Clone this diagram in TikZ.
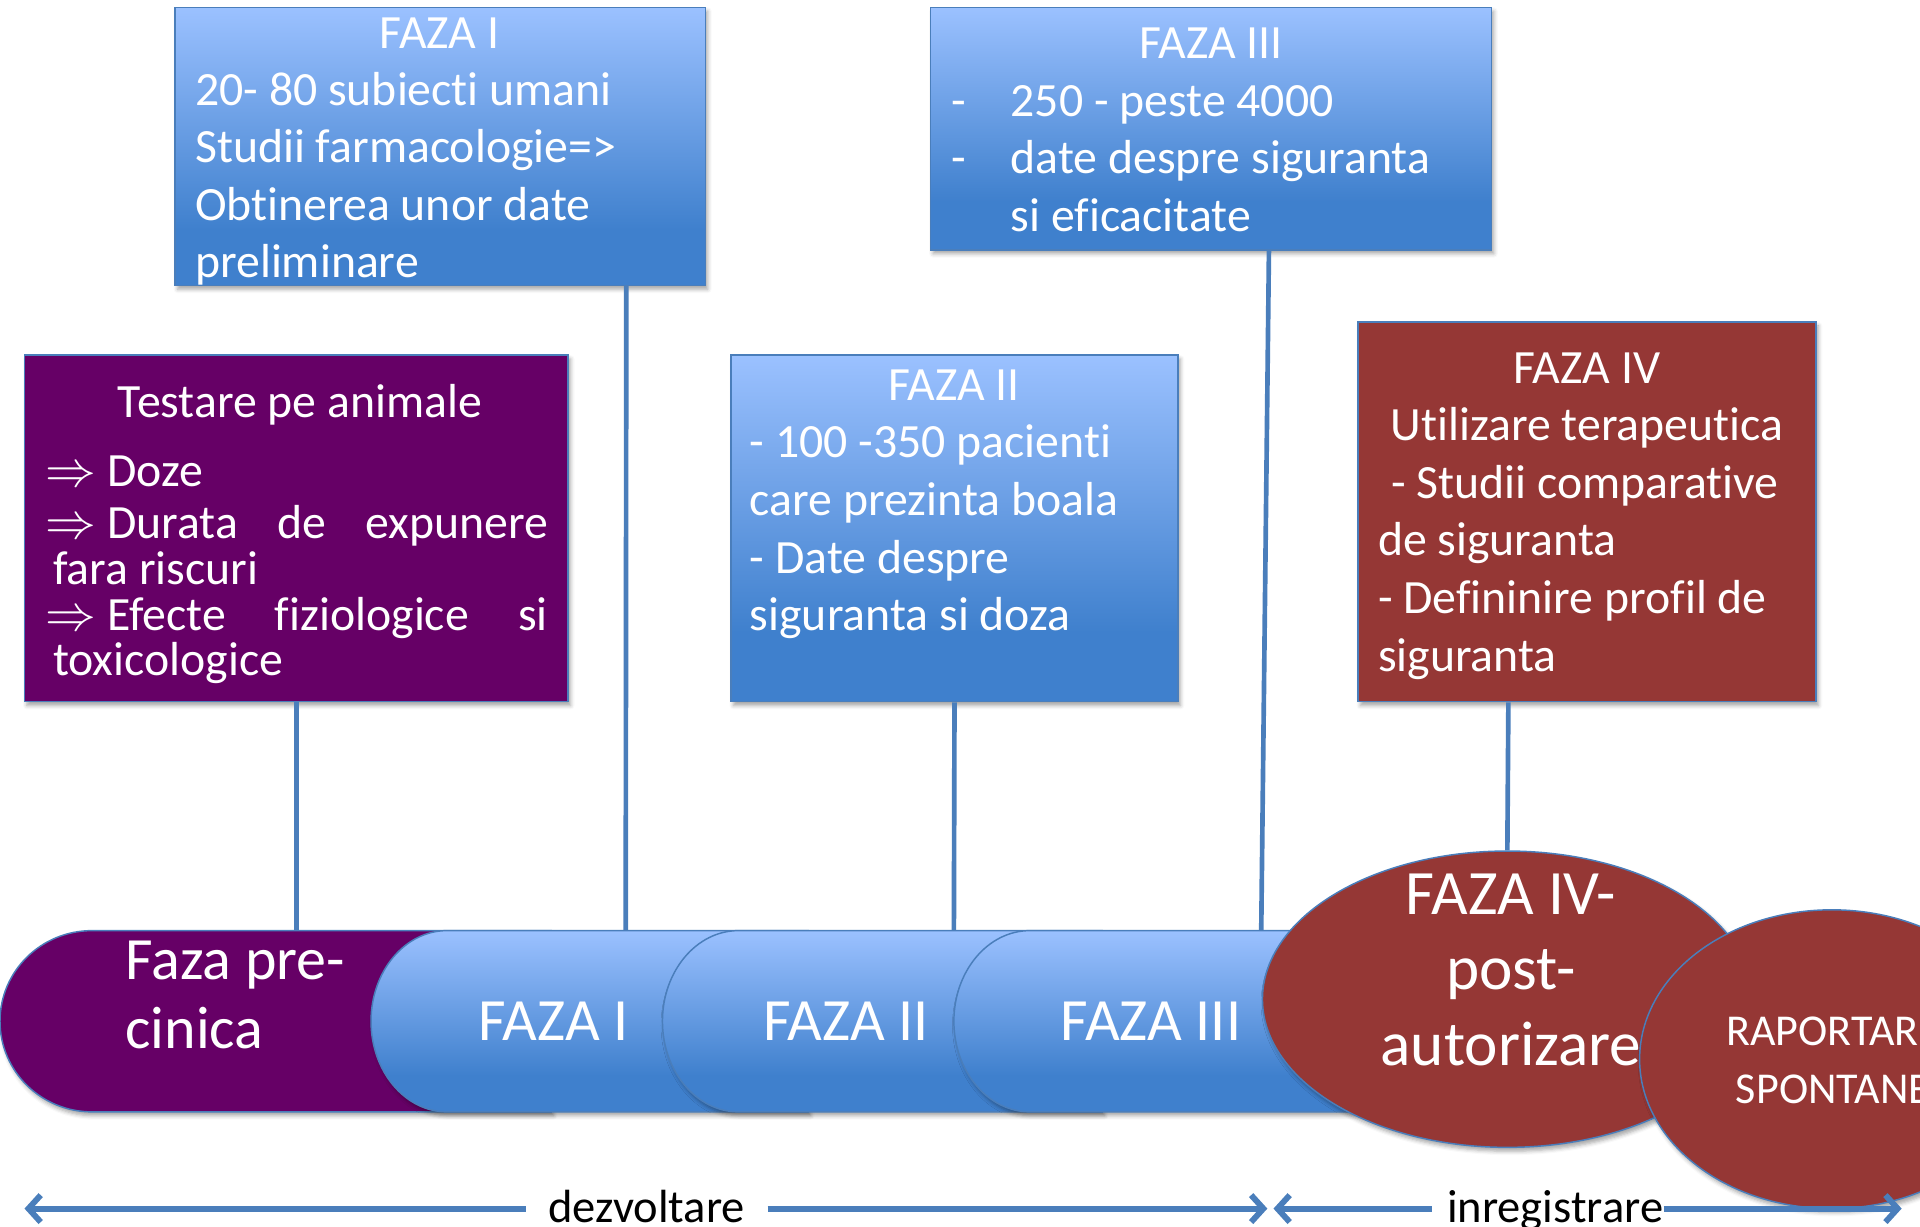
\documentclass[tikz,border=0pt]{standalone}
\usepackage{fontspec}
\setmainfont{Carlito}[Ligatures={NoCommon}]
\usetikzlibrary{shapes.geometric,shadows,shadows.blur,fit,arrows.meta,calc}

\definecolor{phaseblue}{HTML}{4A7EBB}
\definecolor{gradtop}{HTML}{9BC1FF}
\definecolor{gradbot}{HTML}{3F80CD}
\definecolor{preclin}{HTML}{660066}
\definecolor{postred}{HTML}{953735}

% light-to-dark blue fill used by the clinical phases
\pgfdeclareverticalshading{phasegrad}{100bp}{color(0bp)=(gradbot); color(25bp)=(gradbot); color(35bp)=(gradbot); color(75bp)=(gradtop); color(100bp)=(gradtop)}

\newcommand\bodyfont{\fontsize{19.5}{23.5}\selectfont}
\newcommand\pillfont{\fontsize{24.5}{28}\selectfont}
\newcommand\ovalfont{\fontsize{25.8}{30}\selectfont}
\newcommand\spontfont{\fontsize{18}{22}\selectfont}
\newcommand\axisfont{\fontsize{19}{22}\selectfont}

\begin{document}
\begin{tikzpicture}[x=0.5pt,y=-0.5pt,
  softshadow/.style={blur shadow={shadow xshift=1pt,shadow yshift=-1.6pt,shadow blur radius=1.6pt,shadow opacity=35}},
  card/.style={inner sep=0pt,draw=phaseblue,line width=0.6pt,softshadow},
  bluecard/.style={card,shading=phasegrad},
  purplecard/.style={card,fill=preclin},
  redcard/.style={card,fill=postred},
  pill/.style={draw=phaseblue,line width=0.6pt,softshadow},
  oval/.style={ellipse,inner sep=0pt,draw=phaseblue,line width=0.6pt,fill=postred,softshadow},
  conn/.style={draw=phaseblue,line width=1.9pt},
  axis/.style={draw=phaseblue,line width=2.4pt},
  title/.style={text=white,font=\bodyfont,inner sep=0pt,anchor=base},
  line/.style={text=white,font=\bodyfont,inner sep=0pt,anchor=base west},
  linec/.style={text=white,font=\bodyfont,inner sep=0pt,anchor=base},
  pilltext/.style={text=white,font=\pillfont,inner sep=0pt},
  ovaltext/.style={text=white,font=\ovalfont,inner sep=0pt,anchor=base},
  sponttext/.style={text=white,font=\spontfont,inner sep=0pt,anchor=base},
  axislabel/.style={text=black,font=\axisfont,inner sep=0pt,anchor=base}
]
\useasboundingbox (0,0) rectangle (1568,1002);
\clip (0,0) rectangle (1568,1002);

% ---------- anchor points on top of the timeline ----------
\coordinate (k0) at (242,760);
\coordinate (k1) at (511,760);
\coordinate (k2) at (779,760);
\coordinate (k3) at (1030,760);

% ---------- description cards ----------
\node[bluecard,fit={(143,6)(576,233)}] (f1box) {};
\node[bluecard,fit={(760,6)(1218,204)}] (f3box) {};
\node[purplecard,fit={(20,290)(464,573)}] (testbox) {};
\node[bluecard,fit={(597,290)(962,573)}] (f2box) {};
\node[redcard,fit={(1109,263)(1483,573)}] (f4box) {};

% ---------- card texts ----------
\node[title] (f1t) at (359,40) {FAZA I};
\node[line] (f1a) at (159,86) {20- 80 subiecti umani};
\node[line] (f1b) at (159,133) {Studii farmacologie=>};
\node[line] (f1c) at (159,180) {Obtinerea unor date};
\node[line] (f1d) at (159,227) {preliminare};

\node[title] (f3t) at (989,48) {FAZA III};
\node[line] (f3da) at (777,95) {-};
\node[line] (f3a) at (825,95) {250 - peste 4000};
\node[line] (f3db) at (777,142) {-};
\node[line] (f3b) at (825,142) {date despre siguranta};
\node[line] (f3c) at (825,189) {si eficacitate};

\node[linec] (tt) at (245,341) {Testare pe animale};
\node[line] (ta) at (37,397) {$\Rightarrow$ Doze};
\node[line] (tb) at (37,440) {\makebox[205pt][s]{$\Rightarrow$ Durata\hfill de\hfill expunere}};
\node[line] (tc) at (43,477) {fara riscuri};
\node[line] (td) at (37,515) {\makebox[205pt][s]{$\Rightarrow$ Efecte\hfill fiziologice\hfill si}};
\node[line] (te) at (43,552) {toxicologice};

\node[title] (f2t) at (779,327) {FAZA II};
\node[line] (f2a) at (612,374) {- 100 -350 pacienti};
\node[line] (f2b) at (612,421) {care prezinta boala};
\node[line] (f2c) at (612,468) {- Date despre};
\node[line] (f2d) at (612,515) {siguranta si doza};

\node[title] (f4t) at (1296,313) {FAZA IV};
\node[linec] (f4a) at (1296,360) {Utilizare terapeutica};
\node[line] (f4b) at (1136,407) {- Studii comparative};
\node[line] (f4c) at (1125,454) {de siguranta};
\node[line] (f4d) at (1125,501) {- Defininire profil de};
\node[line] (f4e) at (1125,548) {siguranta};

% ---------- timeline pills ----------
\path[pill,fill=preclin] (75,760) -- (450,760) -- (450,908) -- (75,908)
  .. controls (33.6,908) and (0,874.9) .. (0,834)
  .. controls (0,793.1) and (33.6,760) .. (75,760) -- cycle;
\foreach \L/\R in {303/660, 541/900, 779/1150}{
  \path[pill,shading=phasegrad] (\L+62,760) -- (\R,760) -- (\R,908) -- (\L+62,908)
    .. controls (\L+27.8,908) and (\L,874.9) .. (\L,834)
    .. controls (\L,793.1) and (\L+27.8,760) .. (\L+62,760) -- cycle;
}

% ---------- post-authorisation ovals ----------
\node[oval,minimum width=200pt,minimum height=121pt] (e1) at (1231,816) {};
\node[oval,minimum width=157pt,minimum height=122pt] (e2) at (1496,865) {};

% ---------- connectors from cards to the timeline ----------
\draw[conn] (testbox.south) -- (k0);
\draw[conn] ($(f1box.south west)!0.85!(f1box.south east)$) -- (k1);
\draw[conn] (f2box.south) -- (k2);
\draw[conn] ($(f3box.south west)!0.603!(f3box.south east)$) -- (k3);
\draw[conn] ($(f4box.south west)!0.329!(f4box.south east)$) -- (e1.north);

% ---------- timeline texts ----------
\node[pilltext,anchor=base west] (p0a) at (102,800) {Faza pre-};
\node[pilltext,anchor=base west] (p0b) at (102,856) {cinica};
\node[pilltext,anchor=base] (p1) at (452,850) {FAZA I};
\node[pilltext,anchor=base] (p2) at (691,850) {FAZA II};
\node[pilltext,anchor=base] (p3) at (940,850) {FAZA III};

\node[ovaltext] (e1a) at (1234,747) {FAZA IV-};
\node[ovaltext] (e1b) at (1234,808) {post-};
\node[ovaltext] (e1c) at (1234,870) {autorizare};
\node[sponttext] (e2a) at (1497,854) {RAPORTARE};
\node[sponttext] (e2b) at (1497,901) {SPONTANE};

% ---------- bottom axis ----------
\coordinate (devL) at (20,987);
\coordinate (devR) at (1035,987);
\coordinate (regL) at (1040,987);
\coordinate (regR) at (1553,987);
\node[axislabel,inner xsep=9pt] (dez) at (528,998) {dezvoltare};
\node[axislabel] (reg) at (1270,998) {inregistrare};

\draw[axis,-{Straight Barb[length=5pt,width=11pt]}] (devL -| dez.east) -- (devR);
\draw[axis,{Straight Barb[length=5pt,width=11pt]}-] (devL) -- (devL -| dez.west);
\draw[axis,{Straight Barb[length=5pt,width=11pt]}-] (regL) -- ($(regL -| reg.west)+(-12,0)$);
\draw[axis,-{Straight Barb[length=5pt,width=11pt]}] (regL -| reg.east) -- (regR);
\end{tikzpicture}
\end{document}
